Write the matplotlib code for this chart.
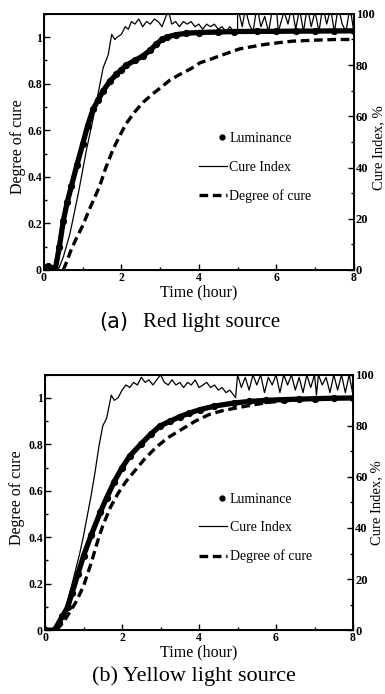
import matplotlib.pyplot as plt
from matplotlib.lines import Line2D
from matplotlib.legend_handler import HandlerLine2D
from matplotlib.ticker import MultipleLocator

plt.rcParams['font.family'] = ['Liberation Serif', 'DejaVu Serif']

# ---- (a) red light source ----
red_lum_t = [0.0, 0.1, 0.2, 0.29, 0.4, 0.5, 0.6, 0.71, 0.85, 1.0, 1.13, 1.27, 1.4,
             1.53, 1.7, 1.87, 2.0, 2.13, 2.35, 2.56, 2.75, 2.9, 3.05, 3.17, 3.4,
             3.68, 4.0, 4.5, 4.9, 5.5, 6.0, 6.5, 7.0, 7.5, 8.0]
red_lum = [0.01, 0.015, 0.01, 0.0, 0.1, 0.21, 0.29, 0.36, 0.45, 0.54, 0.62, 0.69, 0.73,
           0.77, 0.81, 0.84, 0.86, 0.88, 0.9, 0.92, 0.945, 0.97, 0.99, 1.0, 1.01,
           1.017, 1.02, 1.022, 1.024, 1.025, 1.025, 1.026, 1.026, 1.027, 1.027]

red_doc_t = [0.5, 0.6, 0.71, 0.85, 1.0, 1.2, 1.44, 1.6, 1.79, 2.0, 2.13, 2.35, 2.56,
             2.8, 2.99, 3.25, 3.51, 3.8, 4.03, 4.3, 4.54, 4.8, 5.06, 5.4, 5.75,
             6.1, 6.43, 7.0, 7.5, 8.0]
red_doc = [0.0, 0.04, 0.09, 0.14, 0.19, 0.27, 0.36, 0.44, 0.52, 0.59, 0.63, 0.68, 0.72,
           0.755, 0.78, 0.815, 0.84, 0.865, 0.89, 0.905, 0.92, 0.935, 0.95, 0.96, 0.97,
           0.977, 0.983, 0.987, 0.99, 0.99]

red_ci_t = [0.0, 0.37, 0.5, 0.67, 0.89, 1.1, 1.27, 1.44, 1.53, 1.66, 1.75, 1.83, 1.9,
            2.0, 2.1, 2.18, 2.26, 2.35, 2.45, 2.55, 2.65, 2.75, 2.85, 2.95, 3.05,
            3.15, 3.22, 3.3, 3.4, 3.5, 3.6, 3.7, 3.8, 3.9, 4.0, 4.1, 4.2, 4.3, 4.4,
            4.5, 4.6, 4.7, 4.8, 4.9, 5.0, 5.0, 5.12, 5.2, 5.3, 5.4, 5.5, 5.6, 5.7,
            5.8, 5.9, 6.0, 6.05, 6.2, 6.3, 6.4, 6.5, 6.6, 6.7, 6.8, 6.9, 7.0, 7.1,
            7.2, 7.3, 7.4, 7.5, 7.6, 7.7, 7.8, 7.9, 8.0]
red_ci = [0, 0, 5, 14, 30, 47, 59, 72, 79, 84, 92, 90, 91,
          92, 95, 94, 97, 96, 98, 95, 97, 96, 98, 97, 95,
          99, 101, 96, 97, 95, 97, 96, 97, 95, 96, 94, 96, 95, 96,
          94, 95, 93, 95, 93, 93, 103, 95, 102, 96, 93, 103, 95, 99,
          93, 102, 103, 93, 101, 96, 103, 94, 102, 93, 103, 95, 101, 93,
          103, 96, 102, 93, 103, 96, 93, 103, 93]

# ---- (b) yellow light source ----
yel_lum_t = [0.0, 0.24, 0.35, 0.45, 0.59, 0.7, 0.85, 1.0, 1.2, 1.44, 1.6, 1.8, 2.0,
             2.2, 2.48, 2.75, 2.99, 3.25, 3.51, 3.75, 4.03, 4.4, 4.9, 5.3, 5.75,
             6.2, 6.6, 7.0, 7.5, 8.0]
yel_lum = [0.0, 0.0, 0.03, 0.06, 0.1, 0.16, 0.24, 0.32, 0.41, 0.51, 0.57, 0.64, 0.70,
           0.75, 0.80, 0.845, 0.88, 0.90, 0.92, 0.935, 0.95, 0.965, 0.978, 0.985, 0.99,
           0.993, 0.995, 0.997, 0.999, 1.0]

yel_doc_t = [0.3, 0.5, 0.65, 0.8, 1.0, 1.2, 1.36, 1.5, 1.7, 1.9, 2.1, 2.3, 2.6, 2.9,
             3.2, 3.6, 3.9, 4.28, 4.6, 5.06, 5.4, 5.75, 6.2, 6.8, 7.4, 8.0]
yel_doc = [0.0, 0.04, 0.08, 0.12, 0.19, 0.29, 0.38, 0.45, 0.53, 0.59, 0.64, 0.68, 0.74, 0.79,
           0.83, 0.87, 0.90, 0.93, 0.945, 0.96, 0.97, 0.98, 0.988, 0.994, 0.998, 1.0]

yel_ci_t = [0.0, 0.3, 0.5, 0.7, 0.9, 1.0, 1.1, 1.2, 1.3, 1.4, 1.5, 1.6, 1.72, 1.8,
            1.9, 2.0, 2.1, 2.2, 2.3, 2.4, 2.5, 2.6, 2.7, 2.8, 2.9, 3.0, 3.1, 3.2,
            3.3, 3.4, 3.5, 3.6, 3.7, 3.8, 3.9, 4.0, 4.1, 4.2, 4.3, 4.4, 4.5, 4.6,
            4.7, 4.8, 4.9, 4.95, 5.0, 5.1, 5.2, 5.3, 5.4, 5.5, 5.6, 5.7, 5.8, 5.9,
            6.0, 6.1, 6.2, 6.3, 6.4, 6.5, 6.6, 6.7, 6.8, 6.9, 7.0, 7.05, 7.1, 7.2,
            7.3, 7.4, 7.5, 7.6, 7.7, 7.8, 7.9, 8.0]
yel_ci = [0, 0, 7, 18, 30, 37, 45, 53, 62, 72, 80, 83, 92, 90,
          91, 94, 96, 95, 97, 96, 99, 97, 98, 96, 98, 100, 97, 96,
          98, 96, 97, 95, 97, 96, 98, 95, 96, 97, 95, 96, 94, 95,
          93, 94, 92, 91, 100, 95, 99, 94, 100, 96, 100, 93, 99, 96,
          100, 93, 100, 96, 100, 94, 99, 93, 100, 95, 100, 92, 100, 96,
          99, 93, 100, 94, 100, 93, 100, 92]

panels = [
    (red_lum_t, red_lum, red_ci_t, red_ci, red_doc_t, red_doc,
     [0.114, 0.611, 0.805, 0.369], (-0.058, 0.48), (1.058, 0.477)),
    (yel_lum_t, yel_lum, yel_ci_t, yel_ci, yel_doc_t, yel_doc,
     [0.117, 0.092, 0.800, 0.368], (-0.066, 0.518), (1.055, 0.50)),
]


class RightDot(HandlerLine2D):
    # single legend marker sits near the right end of the handle
    def get_xdata(self, legend, xdescent, ydescent, width, height, fontsize):
        xdata = [-xdescent + 0.66 * width, -xdescent + width]
        return xdata, xdata


fig = plt.figure(figsize=(3.85, 6.94), dpi=100)

for lt, lv, ct, cv, dt, dv, rect, lpos, rpos in panels:
    ax = fig.add_axes(rect)
    ax.plot(lt, lv, color='black', lw=3.8, solid_capstyle='round')
    ax.plot(lt, lv, 'o', color='black', ms=4.2)
    ax.plot(dt, dv, color='black', lw=2.4, dashes=(2.6, 1.4))
    ax.set_xlim(0, 8)
    ax.set_ylim(0, 1.1)
    ax.xaxis.set_major_locator(MultipleLocator(2))
    ax.xaxis.set_minor_locator(MultipleLocator(1))
    ax.yaxis.set_minor_locator(MultipleLocator(0.1))
    ax.set_yticks([0, 0.2, 0.4, 0.6, 0.8, 1.0])
    ax.set_yticklabels(['0', '0.2', '0.4', '0.6', '0.8', '1'])
    ax.tick_params(which='both', direction='in', top=False, right=False,
                   labelsize=8.5, pad=1.5, width=1.0)
    ax.tick_params(which='major', length=4)
    ax.tick_params(which='minor', length=2.5)
    for lab in ax.get_xticklabels() + ax.get_yticklabels():
        lab.set_fontweight('bold')
    for s in ax.spines.values():
        s.set_linewidth(1.4)
    ax.set_xlabel('Time (hour)', fontsize=11.5, labelpad=0)
    ax.set_ylabel('Degree of cure', fontsize=11.5)
    ax.yaxis.set_label_coords(*lpos)

    ax2 = ax.twinx()
    ax2.plot(ct, cv, color='black', lw=0.9)
    ax2.set_ylim(0, 100)
    ax2.yaxis.set_major_locator(MultipleLocator(20))
    ax2.yaxis.set_minor_locator(MultipleLocator(10))
    ax2.tick_params(which='both', direction='in', labelsize=9, pad=1.5, width=1.0)
    ax2.tick_params(which='major', length=4)
    ax2.tick_params(which='minor', length=2.5)
    for lab in ax2.get_yticklabels():
        lab.set_fontweight('bold')
    ax2.set_ylabel('Cure Index, %', fontsize=10.5)
    ax2.yaxis.set_label_coords(*rpos)

    dot = Line2D([], [], color='black', marker='o', ls='none', ms=3.5)
    handles = [dot,
               Line2D([], [], color='black', lw=0.9),
               Line2D([], [], color='black', lw=2.4, dashes=(2.6, 1.4))]
    ax2.legend(handles, ['Luminance', 'Cure Index', 'Degree of cure'],
               loc='center left', bbox_to_anchor=(0.50, 0.40), frameon=False,
               fontsize=10, handlelength=2.0, handletextpad=0.2,
               labelspacing=1.12, borderpad=0, borderaxespad=0,
               handler_map={dot: RightDot()})

fig.text(0.258, 0.536, '(a)', fontsize=15, family='DejaVu Sans',
         ha='left', va='center')
fig.text(0.372, 0.536, 'Red light source', fontsize=15, ha='left', va='center')
fig.text(0.504, 0.026, '(b) Yellow light source', fontsize=16,
         ha='center', va='center')

fig.savefig('out.png', dpi=100)
